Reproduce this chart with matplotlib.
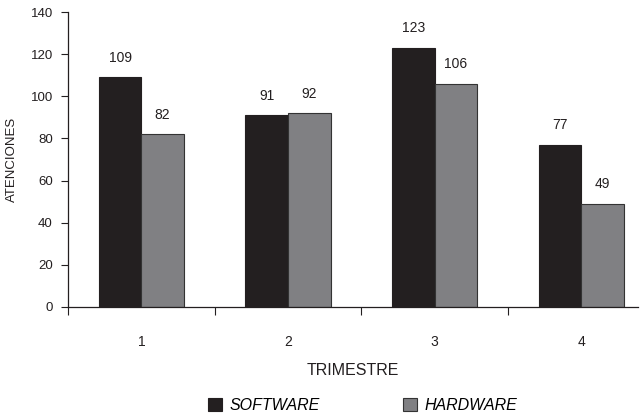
import numpy as np
import matplotlib.pyplot as plt
from matplotlib.ticker import FixedLocator, NullFormatter

plt.rcParams['font.family'] = ['Liberation Sans', 'DejaVu Sans']

trimestres = ['1', '2', '3', '4']
software = [109, 91, 123, 77]
hardware = [82, 92, 106, 49]

c_soft = '#231f20'
c_hard = '#808083'

fig = plt.figure(figsize=(6.43, 4.17), dpi=100)
ax = fig.add_axes([0.1058, 0.2638, 0.8862, 0.7072])

x = np.arange(len(trimestres))
w = 0.29
b1 = ax.bar(x - w / 2, software, w, color=c_soft, edgecolor='#231f20', linewidth=0.8, label='SOFTWARE')
b2 = ax.bar(x + w / 2, hardware, w, color=c_hard, edgecolor='#333333', linewidth=0.8, label='HARDWARE')

for bars, vals in ((b1, software), (b2, hardware)):
    for r, v in zip(bars, vals):
        ax.text(r.get_x() + r.get_width() / 2, v + 6, str(v), ha='center', va='bottom',
                fontsize=10, color='#231f20')

ax.set_ylim(0, 140)
ax.set_xlim(-0.5, 3.386)
ax.set_yticks(range(0, 141, 20))
ax.tick_params(axis='y', labelsize=9.5, length=5, width=0.8, colors='#231f20', pad=6)

ax.set_xticks(x)
ax.set_xticklabels(trimestres)
ax.tick_params(axis='x', which='major', length=0, pad=20, labelsize=10, colors='#231f20')
ax.xaxis.set_minor_locator(FixedLocator([-0.5, 0.5, 1.5, 2.5]))
ax.xaxis.set_minor_formatter(NullFormatter())
ax.tick_params(axis='x', which='minor', length=6, width=0.8, color='#231f20')

for s in ('top', 'right'):
    ax.spines[s].set_visible(False)
for s in ('left', 'bottom'):
    ax.spines[s].set_linewidth(0.9)
    ax.spines[s].set_color('#231f20')

ax.set_ylabel('ATENCIONES', fontsize=9.5, color='#231f20')
ax.yaxis.set_label_coords(-0.088, 0.5)
ax.set_xlabel('TRIMESTRE', fontsize=11.5, color='#231f20', labelpad=10)

leg = fig.legend(handles=[b1, b2], loc='lower center', bbox_to_anchor=(0.564, -0.025), ncol=2,
                 frameon=False, handlelength=0.9, handleheight=0.9, handletextpad=0.45,
                 columnspacing=5.2, prop={'style': 'italic', 'size': 11.5})

fig.savefig('out.png', dpi=100)
